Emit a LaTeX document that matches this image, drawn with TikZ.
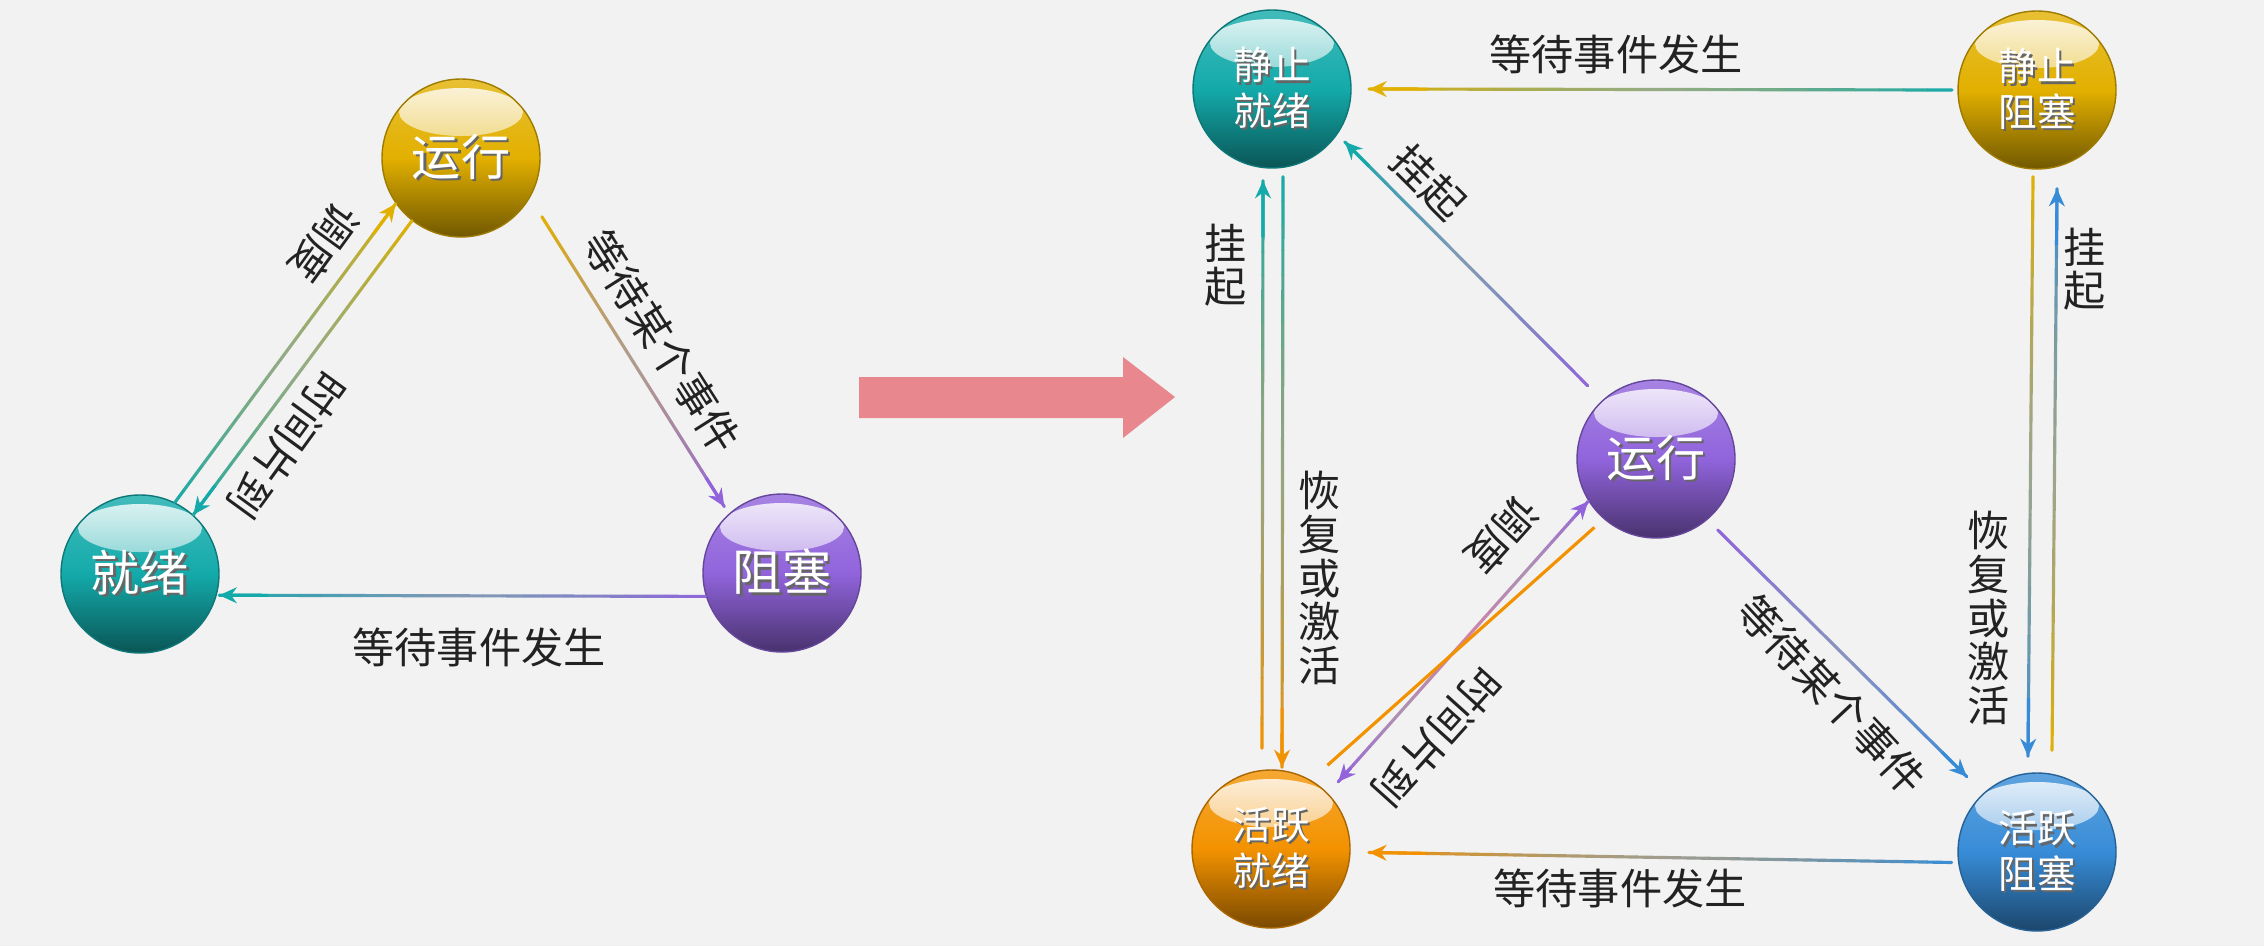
\documentclass[tikz,border=0pt]{standalone}
\usepackage{fontspec}
\setmainfont{Noto Sans CJK SC}
\usetikzlibrary{calc,arrows.meta,fadings}

\definecolor{bgc}{RGB}{242,242,242}
\definecolor{tealc}{RGB}{20,170,170}
\definecolor{goldc}{RGB}{226,176,0}
\definecolor{purplec}{RGB}{145,100,220}
\definecolor{orangec}{RGB}{243,146,0}
\definecolor{bluec}{RGB}{55,140,215}
\definecolor{pinkc}{RGB}{232,135,142}
\definecolor{midpink}{RGB}{215,130,160}
\definecolor{midgrey}{RGB}{170,170,170}
\definecolor{inkc}{RGB}{34,34,34}

\tikzfading[name=gloss, top color=transparent!15, bottom color=transparent!100]

\tikzset{
  ball/.style={circle, minimum size=1.58cm, inner sep=0pt, draw=#1!70!black,
    top color=#1!80!white, bottom color=#1!50!black, middle color=#1, text=white,
    path picture={\fill[white, path fading=gloss]
      ([yshift=-0.33cm]path picture bounding box.north) ellipse (0.62cm and 0.24cm);}},
  big/.style={font=\fontsize{14}{16}\selectfont},
  small/.style={font=\fontsize{11}{13}\selectfont, align=center},
  lbl/.style={font=\fontsize{12}{12.4}\selectfont, text=inkc, inner sep=1pt, align=center},
  tip/.style={-{Stealth[length=5pt,width=4.5pt]}, line width=0.9pt},
}

% white text with a dark shadow
\newcommand\shd[1]{\makebox[0pt][l]{\hspace{0.7pt}\raisebox{-0.7pt}{\color{black!60}#1}}#1}

% gradient connector: #1 start, #2 end, #3 start colour, #4 end colour
\newcommand\gradline[4]{%
  \coordinate (gA) at (#1);
  \coordinate (gB) at (#2);
  \foreach \k in {1,...,24}{%
    \pgfmathsetmacro\ta{(\k-1)/24}%
    \pgfmathsetmacro\tb{\k/24}%
    \pgfmathtruncatemacro\pc{100*(\k-0.5)/24}%
    \pgfmathtruncatemacro\dd{100-110*min((\k-0.5)/24,1-(\k-0.5)/24)}%
    \draw[#4!\pc!#3!\dd!midgrey, line width=0.9pt, line cap=round] ($(gA)!\ta!(gB)$) -- ($(gA)!\tb!(gB)$);
  }%
}
\newcommand\gradarrow[4]{%
  \gradline{#1}{#2}{#3}{#4}%
  \draw[tip, #4] ($(gA)!0.9!(gB)$) -- (gB);%
}

\begin{document}
\begin{tikzpicture}
  \fill[bgc] (0,0) rectangle (22.64,9.46);

  % left: three states
  \node[ball=goldc, big] (run) at (4.61,7.88) {\shd{运行}};
  \node[ball=tealc, big] (ready) at (1.40,3.72) {\shd{就绪}};
  \node[ball=purplec, big] (block) at (7.82,3.73) {\shd{阻塞}};

  \gradarrow{ready.64}{run.215}{tealc}{goldc}
  \gradarrow{run.232}{ready.48}{goldc}{tealc}
  \gradarrow{$(run)+(-36:1.0)$}{$(block)+(131:0.88)$}{goldc}{purplec}
  \gradarrow{$(block)+(197:0.8)$}{$(ready)+(-15:0.82)$}{purplec}{tealc}

  \node[lbl, rotate=234] (ldd) at (3.25,7.03) {调度};
  \node[lbl, rotate=234] (lsj) at (2.87,5.01) {时间片到};
  \node[lbl, rotate=-57.6] (lwait) at (6.62,6.04) {等待某个事件};
  \node[lbl] (lev) at (4.79,2.99) {等待事件发生};

  % big arrow
  \fill[pinkc] (8.59,5.28) -- (11.23,5.28) -- (11.23,5.08) -- (11.75,5.49)
    -- (11.23,5.89) -- (11.23,5.69) -- (8.59,5.69) -- cycle;

  % right: five states
  \node[ball=tealc, small] (sready) at (12.72,8.57) {\shd{静止}\\\shd{就绪}};
  \node[ball=goldc, small] (sblock) at (20.37,8.56) {\shd{静止}\\\shd{阻塞}};
  \node[ball=purplec, big] (run2) at (16.56,4.87) {\shd{运行}};
  \node[ball=orangec, small] (aready) at (12.71,0.97) {\shd{活跃}\\\shd{就绪}};
  \node[ball=bluec, small] (ablock) at (20.37,0.94) {\shd{活跃}\\\shd{阻塞}};

  \gradarrow{$(sblock)+(180:0.85)$}{$(sready)+(0:0.97)$}{tealc}{goldc}
  \gradarrow{$(aready.north)+(-0.09,0.21)$}{$(sready.south)+(-0.09,-0.12)$}{orangec}{tealc}
  \gradarrow{$(sready.south)+(0.11,-0.08)$}{$(aready.north)+(0.11,0.02)$}{tealc}{orangec}
  \gradarrow{$(run2)+(133:1.0)$}{$(sready)+(-36:0.9)$}{purplec}{tealc}
  \coordinate (p5) at ($(run2)+(212:0.8)$);
  \coordinate (q5) at ($(aready)+(45:0.95)$);
  \coordinate (m5) at ($(p5)!0.5!(q5)$);
  \gradarrow{m5}{p5}{midpink}{purplec}
  \gradarrow{m5}{q5}{midpink}{purplec}
  \draw[orangec, line width=0.9pt] ($(aready)+(56:1.01)$) -- ($(run2)+(228:0.92)$);
  \gradarrow{$(run2)+(-49:0.94)$}{$(ablock)+(133:1.03)$}{purplec}{bluec}
  \gradarrow{$(ablock)+(187:0.86)$}{$(aready)+(-2:0.98)$}{bluec}{orangec}
  \gradarrow{$(sblock.south)+(-0.04,-0.07)$}{$(ablock.north)+(-0.09,0.16)$}{goldc}{bluec}
  \gradarrow{$(ablock.north)+(0.15,0.22)$}{$(sblock.south)+(0.20,-0.19)$}{goldc}{bluec}

  \node[lbl] (rev1) at (16.16,8.92) {等待事件发生};
  \node[lbl] (rgq1) at (12.26,6.81) {挂\\起};
  \node[lbl, rotate=-45] (rgq2) at (14.29,7.64) {挂起};
  \node[lbl] (rhf1) at (13.20,3.68) {恢\\复\\或\\激\\活};
  \node[lbl, rotate=228] (rdd) at (15.02,4.11) {调度};
  \node[lbl, rotate=228] (rsj) at (14.37,2.09) {时间片到};
  \node[lbl, rotate=-47] (rwait) at (18.32,2.51) {等待某个事件};
  \node[lbl] (rev2) at (16.20,0.58) {等待事件发生};
  \node[lbl] (rgq3) at (20.85,6.77) {挂\\起};
  \node[lbl] (rhf2) at (19.89,3.28) {恢\\复\\或\\激\\活};
\end{tikzpicture}
\end{document}
